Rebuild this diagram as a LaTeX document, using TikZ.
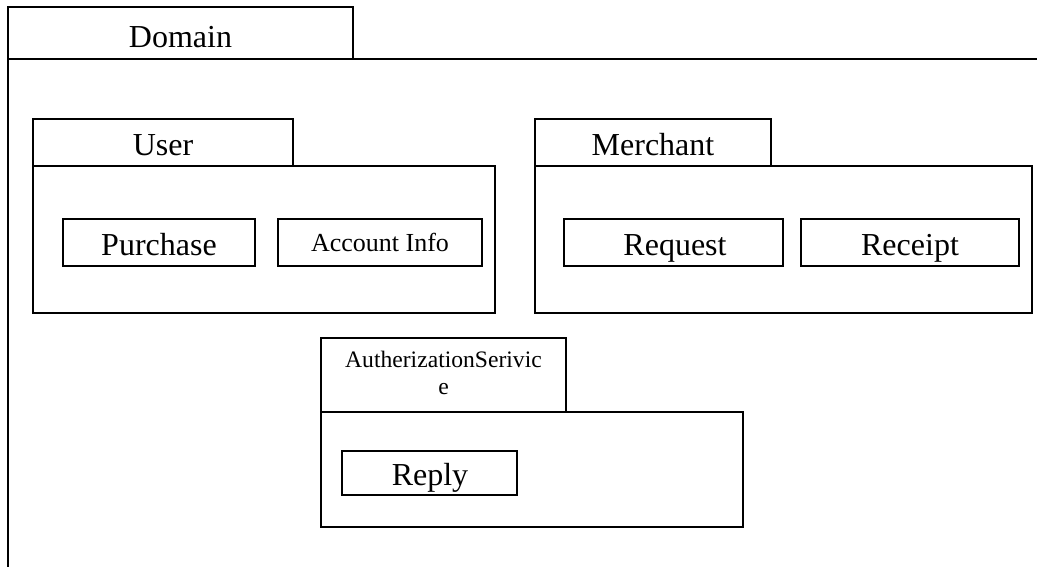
\documentclass[tikz,border=0pt]{standalone}
\usepackage{fontspec}
\setmainfont{Liberation Serif}
\begin{document}
\begin{tikzpicture}[x=1pt,y=-1pt,
  frame/.style={draw=black,line width=1.9pt,inner sep=0pt,outer sep=0pt,anchor=north west},
  lbl/.style={inner sep=0pt,anchor=base,font=\fontsize{32}{36}\selectfont},
  small/.style={inner sep=0pt,anchor=base,font=\fontsize{26}{30}\selectfont},
  tiny/.style={inner sep=0pt,anchor=base,align=center,font=\fontsize{23.6}{26.5}\selectfont}]
\useasboundingbox (0,0) rectangle (1037,566);
% Domain
\node[frame,minimum width=345pt,minimum height=52pt] (domtab) at (8,7) {};
\coordinate (domBL) at (8,567);
\coordinate (domTR) at (1038,59);
\draw[line width=1.9pt] (domBL) -- (domtab.south west) -- (domtab.south east) -- (domTR);
\node[lbl] (domlbl) at (180.5,47) {Domain};
% User
\node[frame,minimum width=260pt,minimum height=47pt] (usertab) at (33,119) {};
\node[frame,minimum width=462pt,minimum height=147pt] (userbody) at (33,166) {};
\node[lbl] (userlbl) at (163,155) {User};
\node[frame,minimum width=192pt,minimum height=47pt] (purchase) at (63,219) {};
\node[lbl] (purchaselbl) at (159,255) {Purchase};
\node[frame,minimum width=204pt,minimum height=47pt] (account) at (278,219) {};
\node[small] (accountlbl) at (380,251) {Account Info};
% Merchant
\node[frame,minimum width=236pt,minimum height=47pt] (merchtab) at (535,119) {};
\node[frame,minimum width=497pt,minimum height=147pt] (merchbody) at (535,166) {};
\node[lbl] (merchlbl) at (653,155) {Merchant};
\node[frame,minimum width=219pt,minimum height=47pt] (request) at (564,219) {};
\node[lbl] (requestlbl) at (675,255) {Request};
\node[frame,minimum width=218pt,minimum height=47pt] (receipt) at (801,219) {};
\node[lbl] (receiptlbl) at (910,255) {Receipt};
% Autherization Service
\node[frame,minimum width=245pt,minimum height=74pt] (authtab) at (321,338) {};
\node[frame,minimum width=422pt,minimum height=115pt] (authbody) at (321,412) {};
\node[tiny] (authlbl) at (443.5,394) {AutherizationSerivic\\e};
\node[frame,minimum width=175pt,minimum height=44pt] (reply) at (342,451) {};
\node[lbl] (replylbl) at (430,485) {Reply};
\end{tikzpicture}
\end{document}
